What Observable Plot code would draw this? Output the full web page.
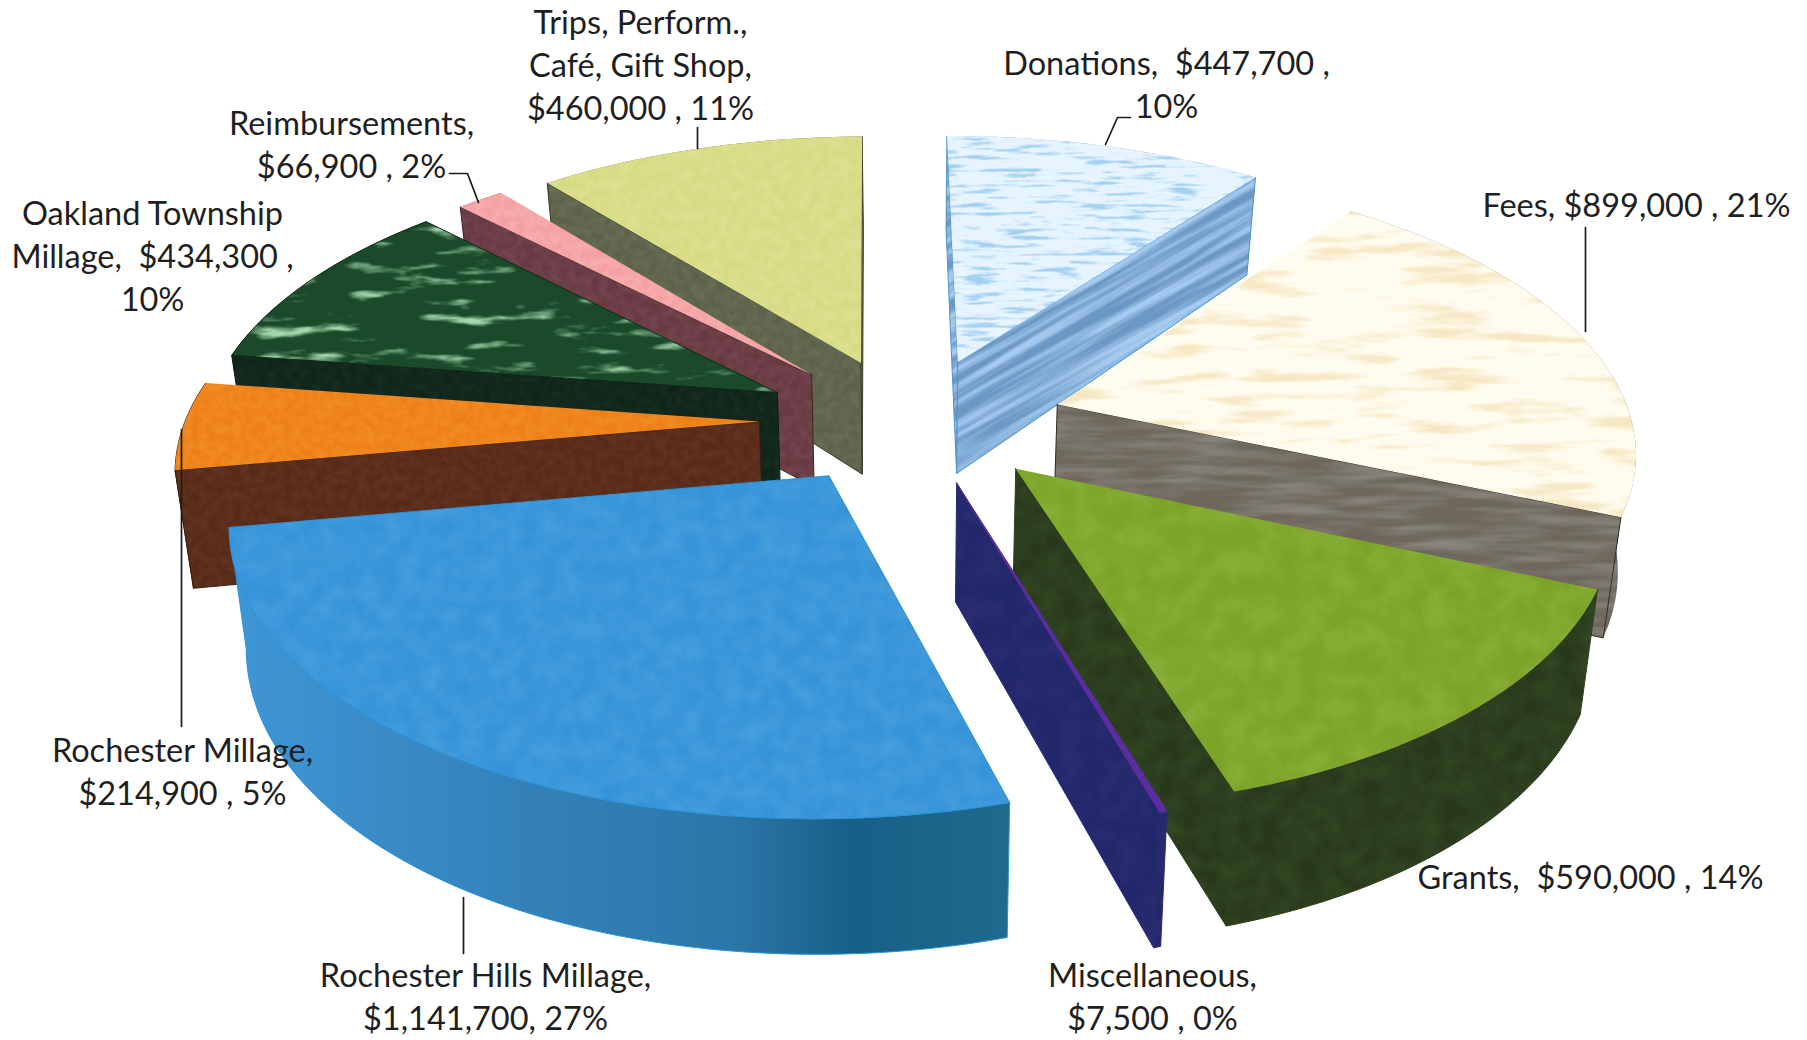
<!DOCTYPE html>
<html>
<head>
<meta charset="utf-8">
<script src="https://cdn.jsdelivr.net/npm/d3@7"></script>
<script src="https://cdn.jsdelivr.net/npm/@observablehq/plot@0.6"></script>
<style>
  html, body { margin: 0; padding: 0; background: #fff; }
  svg { display: block; }
</style>
</head>
<body>
<div id="chart"></div>
<script>
// Revenue sources, clockwise from twelve o'clock.
const sources = ["Donations", "Fees", "Grants", "Miscellaneous", "Rochester Hills Millage",
  "Rochester Millage", "Oakland Township Millage", "Reimbursements", "Trips, Perform., Café, Gift Shop"];
const amounts = [447700, 899000, 590000, 7500, 1141700, 214900, 434300, 66900, 460000];
const labels = [
  "Donations,  $447,700 ,\n10%",
  "Fees, $899,000 , 21%",
  "Grants,  $590,000 , 14%",
  "Miscellaneous,\n$7,500 , 0%",
  "Rochester Hills Millage,\n$1,141,700, 27%",
  "Rochester Millage,\n$214,900 , 5%",
  "Oakland Township\nMillage,  $434,300 ,\n10%",
  "Reimbursements,\n$66,900 , 2%",
  "Trips, Perform.,\nCafé, Gift Shop,\n$460,000 , 11%"
];

// Label anchors and leader lines, in page pixels.
const labelX = [1166, 1636, 1590, 1152, 485, 182, 152, 351, 640];
const labelY = [82, 203, 875, 994, 994, 769, 254, 142, 63];
const leaders = [
  [[1130, 117], [1117, 117], [1105, 144]],
  [[1585, 227], [1585, 331]],
  [[697, 127], [697, 148]],
  [[449, 173], [467, 173], [478, 202]],
  [[181, 429], [181, 726]],
  [[463, 897], [463, 953]]
];

// Face colours per slice: top surface, side wall, and the thin edge lines.
const topFill = ["url(#water)", "url(#wood)", "url(#grass)", "#5a2ea0", "url(#skyTop)",
  "url(#orange)", "url(#marble)", "url(#pink)", "url(#straw)"];
const wallFill = ["url(#waterWall)", "url(#woodWall)", "url(#grassWall)", "url(#navyWall)", "url(#skyWall)",
  "url(#brownWall)", "url(#marbleWall)", "url(#plumWall)", "url(#oliveWall)"];
const topEdge = ["none", "none", "none", "#5a2ea0", "#2a93d8", "none", "#102a18", "none", "none"];
const wallEdge = ["#4f93cc", "#2a2a24", "#2c401b", "#2a2a70", "#2a93d8", "#3a1c10", "#0d1c12", "#3e2428", "#3c4030"];

// Paint order, back of the pie to the front.
const paintOrder = [8, 7, 6, 5, 0, 1, 2, 3, 4];

// Perspective view of the tilted pie.
const view = {cx: 911, cy: 420, a: 574, b: 275, persp: 0.146, explodeX: 0.265, explodeY: 0.23,
  depth: 115, depthGrow: 0.15, shrink: 0.975, turn: -0.6 * Math.PI / 180};

function project(u, v, bottom) {
  const w = 1 - view.persp * v;
  const x = view.cx + view.a * u / w;
  const y = view.cy + view.b * v / w;
  if (!bottom) return {x, y};
  return {x: view.cx + (x - view.cx) * view.shrink, y: y + view.depth * (1 + view.depthGrow * v)};
}

const arcs = d3.pie().sort(null).value(d => d).startAngle(view.turn).endAngle(2 * Math.PI + view.turn)(amounts);

function sliceFaces(i) {
  const {startAngle: a0, endAngle: a1} = arcs[i];
  const mid = (a0 + a1) / 2;
  const ox = view.explodeX * Math.sin(mid), oy = -view.explodeY * Math.cos(mid);
  const at = (angle, r, bottom) => project(ox + r * Math.sin(angle), oy - r * Math.cos(angle), bottom);
  const steps = Math.max(2, Math.ceil((a1 - a0) / 0.02));
  const angles = d3.range(steps + 1).map(k => a0 + (a1 - a0) * k / steps);
  const faces = [];

  // Outer wall; the part facing away from the viewer ends up under the top surface.
  faces.push({points: [...angles.map(t => at(t, 1)), ...angles.slice().reverse().map(t => at(t, 1, true)), at(a0, 1)],
    fill: wallFill[i], stroke: Math.cos(mid) < 0 ? wallEdge[i] : "none"});

  // Radial walls, only where the face points towards the viewer.
  const apex = at(0, 0), inner = at(mid, 0.6);
  for (const t of [a0, a1]) {
    const rim = at(t, 1);
    const ex = rim.x - apex.x, ey = rim.y - apex.y;
    const side = ex * (inner.y - apex.y) - ey * (inner.x - apex.x);
    if (side * ex < 0) {
      faces.push({points: [apex, rim, at(t, 1, true), at(0, 0, true), apex], fill: wallFill[i], stroke: wallEdge[i]});
    }
  }
  faces.push({points: [at(0, 0), ...angles.map(t => at(t, 1)), at(0, 0)], fill: topFill[i], stroke: topEdge[i]});
  return faces;
}

const faces = paintOrder.flatMap(sliceFaces);

const chart = Plot.plot({
  width: 1807,
  height: 1040,
  margin: 0,
  style: {background: "#fff"},
  x: {domain: [0, 1807], range: [0, 1807], axis: null},
  y: {domain: [0, 1040], range: [0, 1040], axis: null},
  marks: [
    ...faces.map(f => Plot.line(f.points, {x: "x", y: "y", fill: f.fill, stroke: f.stroke, strokeWidth: 1})),
    ...leaders.map(l => Plot.line(l, {x: d => d[0], y: d => d[1], stroke: "#1c1c1c", strokeWidth: 1.7})),
    Plot.text(labels, {
      x: (d, i) => labelX[i], y: (d, i) => labelY[i], text: d => d,
      fontFamily: "Lato", fontSize: 32.5, lineHeight: 1.32, fill: "#1f1f1f", textAnchor: "middle"
    })
  ]
});

// Surface textures: fractal noise used as the opacity of a second colour over a base colour.
const svgNS = "http://www.w3.org/2000/svg";
function el(parent, name, attrs) {
  const node = document.createElementNS(svgNS, name);
  for (const k in attrs) node.setAttribute(k, attrs[k]);
  parent.appendChild(node);
  return node;
}
const defs = el(chart, "defs", {});

function texture(id, {freq, octaves = 4, seed = 1, lo, hi, center = 0.3, gain = 0.9, rotate = 0}) {
  const c = d3.rgb(hi);
  const filter = el(defs, "filter", {id: id + "F", x: 0, y: 0, width: "100%", height: "100%",
    "color-interpolation-filters": "sRGB"});
  el(filter, "feTurbulence", {type: "fractalNoise", baseFrequency: freq, numOctaves: octaves, seed, result: "noise"});
  el(filter, "feColorMatrix", {in: "noise", type: "matrix", result: "tint",
    values: `0 0 0 0 ${c.r / 255} 0 0 0 0 ${c.g / 255} 0 0 0 0 ${c.b / 255} ${gain} 0 0 0 ${-gain * center}`});
  const merge = el(filter, "feMerge", {});
  el(merge, "feMergeNode", {in: "SourceGraphic"});
  el(merge, "feMergeNode", {in: "tint"});
  const attrs = {id, patternUnits: "userSpaceOnUse", width: 1807, height: 1040};
  if (rotate) attrs.patternTransform = `rotate(${rotate} 1100 250)`;
  const pattern = el(defs, "pattern", attrs);
  el(pattern, "rect", {width: 1807, height: 1040, fill: lo, filter: `url(#${id}F)`});
}

texture("water", {freq: "0.025 0.25", seed: 4, lo: "#a2d0f1", hi: "#e6f4ff", center: 0.3, gain: 6});
texture("waterWall", {freq: "0.004 0.11", seed: 7, lo: "#6a98c4", hi: "#a6cbf0", center: 0.36, gain: 3, rotate: -30});
texture("wood", {freq: "0.01 0.07", seed: 9, lo: "#f6e8c4", hi: "#fffbee", center: 0.3, gain: 5.5});
texture("woodWall", {freq: "0.012 0.12", seed: 3, lo: "#6d675c", hi: "#8a857c", center: 0.36, gain: 2.2});
texture("grass", {freq: "0.04", seed: 5, lo: "#7ba328", hi: "#98bc46"});
texture("grassWall", {freq: "0.05", seed: 2, lo: "#28391b", hi: "#3f562a"});
texture("navyWall", {freq: "0.05", seed: 6, lo: "#20276a", hi: "#383278"});
texture("skyTop", {freq: "0.05", seed: 8, lo: "#3594d9", hi: "#59a8e0"});
texture("orange", {freq: "0.12", seed: 5, lo: "#ec8015", hi: "#fb9a3c"});
texture("brownWall", {freq: "0.12", seed: 5, lo: "#572a18", hi: "#70402c"});
texture("marble", {freq: "0.016 0.08", seed: 11, lo: "#1a4a29", hi: "#a2d8ac", center: 0.57, gain: 4.5});
texture("marbleWall", {freq: "0.12", seed: 3, lo: "#10241a", hi: "#1e3a2a"});
texture("pink", {freq: "0.12", seed: 5, lo: "#f4a0a2", hi: "#fcc2c0"});
texture("plumWall", {freq: "0.12", seed: 7, lo: "#673a42", hi: "#845560"});
texture("straw", {freq: "0.1", seed: 5, lo: "#d6da82", hi: "#e6e8a4"});
texture("oliveWall", {freq: "0.12", seed: 9, lo: "#5c6149", hi: "#7a7e66"});

// The big front slice darkens along its wall towards the right.
const skyWall = el(defs, "linearGradient", {id: "skyWall", gradientUnits: "userSpaceOnUse", x1: 220, y1: 0, x2: 1012, y2: 0});
[[0, "#3f97d6"], [0.35, "#3583bb"], [0.65, "#2a76a8"], [0.8, "#175f86"], [1, "#1f6a8e"]].forEach(([o, c]) =>
  el(skyWall, "stop", {offset: o, "stop-color": c}));

document.getElementById("chart").appendChild(chart);
</script>
</body>
</html>
